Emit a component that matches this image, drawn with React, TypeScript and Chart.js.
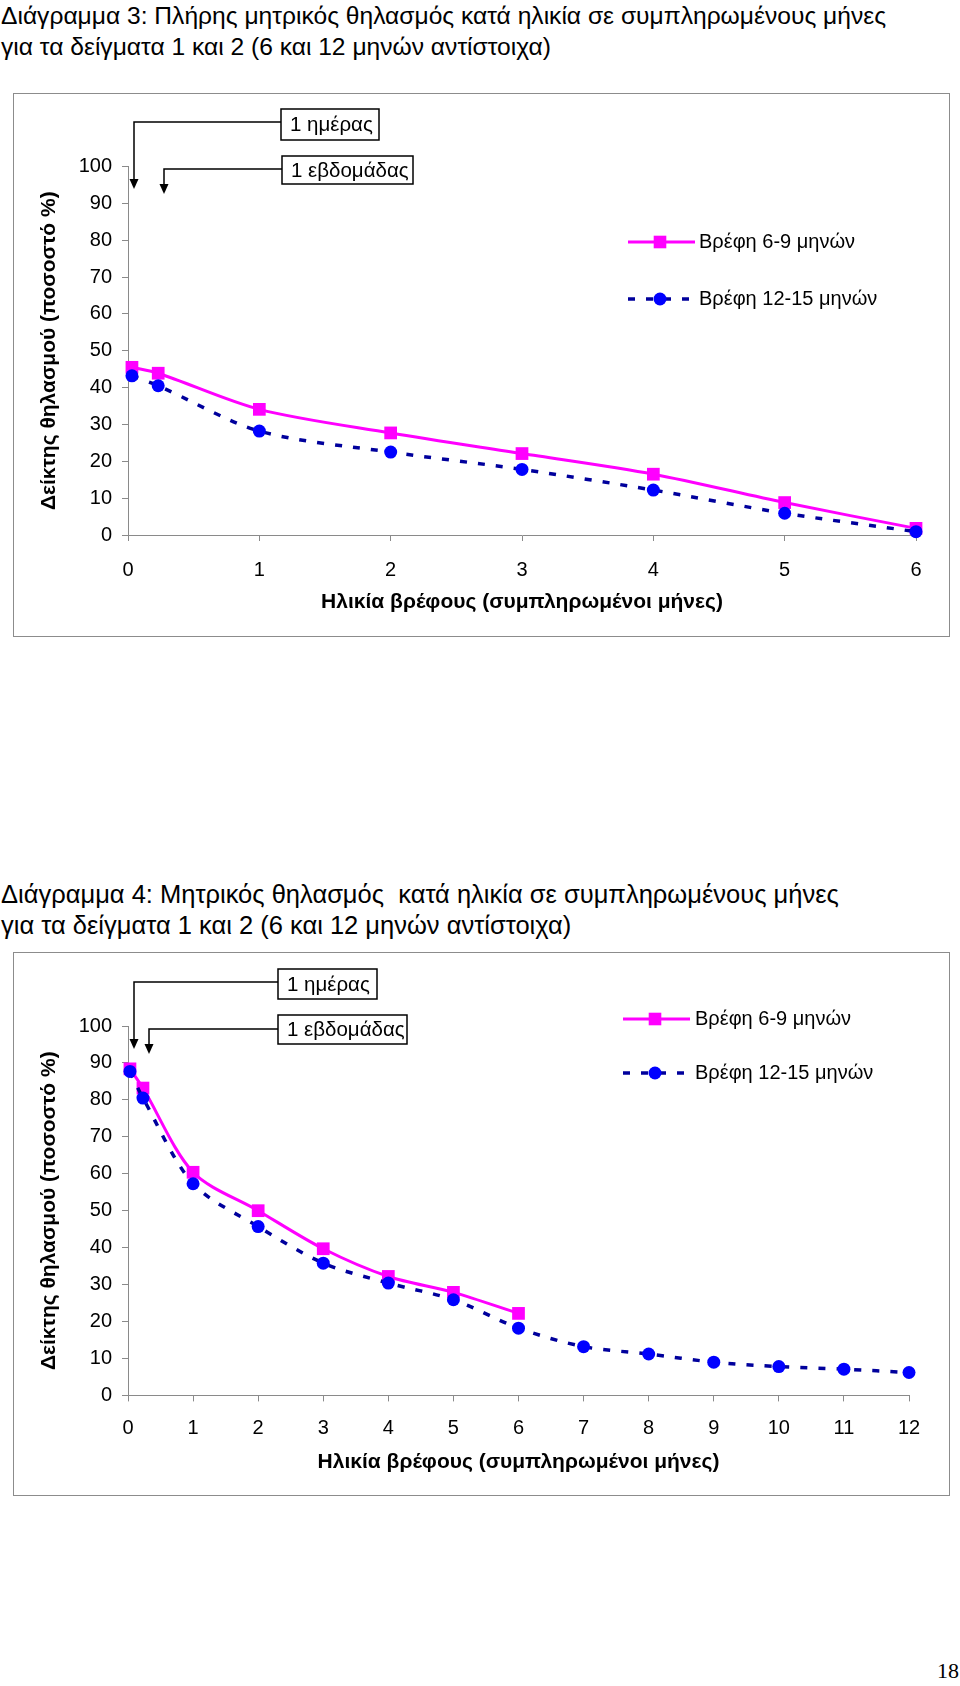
import React, { useEffect, useRef } from "react";
import { Chart, registerables } from "chart.js";

Chart.register(...registerables);

// ---------- data ----------
const chart1Months = [0.03, 0.23, 1, 2, 3, 4, 5, 6];
const chart1Infants6to9 = [45.5, 43.9, 34.1, 27.7, 22.1, 16.5, 8.8, 1.8];
const chart1Infants12to15 = [43.2, 40.5, 28.2, 22.5, 17.8, 12.2, 5.9, 0.9];

const chart2MonthsShort = [0.03, 0.23, 1, 2, 3, 4, 5, 6];
const chart2Infants6to9 = [88.4, 83.2, 60.4, 50.0, 39.7, 32.2, 27.9, 22.2];
const chart2MonthsLong = [0.03, 0.23, 1, 2, 3, 4, 5, 6, 7, 8, 9, 10, 11, 12];
const chart2Infants12to15 = [87.7, 80.5, 57.3, 45.7, 35.8, 30.4, 25.9, 18.2, 13.2, 11.2, 9.0, 7.8, 7.1, 6.2];

const seriesLabels = ["Βρέφη 6-9 μηνών", "Βρέφη 12-15 μηνών"];
const annotationLabels = ["1 ημέρας", "1 εβδομάδας"];
const xAxisTitle = "Ηλικία βρέφους (συμπληρωμένοι μήνες)";
const yAxisTitle = "Δείκτης θηλασμού (ποσοστό %)";
const yMin = 0;
const yMax = 100;
const yStep = 10;
const chart1XMax = 6;
const chart2XMax = 12;

const title1 = [
  "Διάγραμμα 3: Πλήρης μητρικός θηλασμός κατά ηλικία σε συμπληρωμένους μήνες",
  "για τα δείγματα 1 και 2 (6 και 12 μηνών αντίστοιχα)",
];
const title2 = [
  "Διάγραμμα 4: Μητρικός θηλασμός  κατά ηλικία σε συμπληρωμένους μήνες",
  "για τα δείγματα 1 και 2 (6 και 12 μηνών αντίστοιχα)",
];
const pageNumber = "18";

// ---------- styles ----------
const FONT = "'Liberation Sans', Arial, sans-serif";
const PINK = "#FF00FF";
const BLUE_LINE = "#00009c";
const BLUE_MARK = "#0000FF";
const AXIS_GRAY = "#8a8a8a";
const BLUE_DASH = [7, 11];
const TICK_SIZE = 20;
const AXIS_TITLE_SIZE = 21;
const LEGEND_SIZE = 20;
const BOX_SIZE = 20.5;

type Layout = {
  padTop: number;
  padRight: number;
  yWidth: number;
  xHeight: number;
  xTickPad: number;
  xTitleY: number;
  yTitleX: number;
  boxes: { x: number; y: number; w: number; h: number; text: string }[];
  arrows: { fromX: number; y: number; x: number; tipY: number }[];
  legend: { x0: number; x1: number; mx: number; tx: number; y: number[] };
};

function makePlugin(layout: Layout) {
  return {
    id: "decorations",
    afterDraw(chart: any) {
      const ctx: CanvasRenderingContext2D = chart.ctx;
      const ca = chart.chartArea;
      ctx.save();
      // axis titles
      ctx.fillStyle = "#000";
      ctx.font = `bold ${AXIS_TITLE_SIZE}px ${FONT}`;
      ctx.textAlign = "center";
      ctx.textBaseline = "middle";
      ctx.fillText(xAxisTitle, (ca.left + ca.right) / 2, layout.xTitleY);
      ctx.save();
      ctx.translate(layout.yTitleX, (ca.top + ca.bottom) / 2);
      ctx.rotate(-Math.PI / 2);
      ctx.fillText(yAxisTitle, 0, 0);
      ctx.restore();

      // annotation arrows
      ctx.strokeStyle = "#000";
      ctx.fillStyle = "#000";
      ctx.lineWidth = 1.5;
      layout.arrows.forEach((a) => {
        ctx.beginPath();
        ctx.moveTo(a.fromX, a.y);
        ctx.lineTo(a.x, a.y);
        ctx.lineTo(a.x, a.tipY - 8);
        ctx.stroke();
        ctx.beginPath();
        ctx.moveTo(a.x - 4.5, a.tipY - 10);
        ctx.lineTo(a.x + 4.5, a.tipY - 10);
        ctx.lineTo(a.x, a.tipY);
        ctx.closePath();
        ctx.fill();
      });
      // annotation boxes
      layout.boxes.forEach((b) => {
        ctx.fillStyle = "#fff";
        ctx.fillRect(b.x, b.y, b.w, b.h);
        ctx.strokeStyle = "#000";
        ctx.lineWidth = 1.5;
        ctx.strokeRect(b.x, b.y, b.w, b.h);
        ctx.fillStyle = "#000";
        ctx.font = `${BOX_SIZE}px ${FONT}`;
        ctx.textAlign = "left";
        ctx.textBaseline = "middle";
        ctx.fillText(b.text, b.x + 9, b.y + b.h / 2 + 1);
      });

      // legend
      const lg = layout.legend;
      ctx.setLineDash([]);
      ctx.strokeStyle = PINK;
      ctx.lineWidth = 3;
      ctx.beginPath();
      ctx.moveTo(lg.x0, lg.y[0]);
      ctx.lineTo(lg.x1, lg.y[0]);
      ctx.stroke();
      ctx.fillStyle = PINK;
      ctx.fillRect(lg.mx - 6.3, lg.y[0] - 6.3, 12.6, 12.6);
      ctx.setLineDash(BLUE_DASH);
      ctx.strokeStyle = BLUE_LINE;
      ctx.lineWidth = 3.5;
      ctx.beginPath();
      ctx.moveTo(lg.x0, lg.y[1]);
      ctx.lineTo(lg.x1, lg.y[1]);
      ctx.stroke();
      ctx.setLineDash([]);
      ctx.fillStyle = BLUE_MARK;
      ctx.beginPath();
      ctx.arc(lg.mx, lg.y[1], 6.5, 0, Math.PI * 2);
      ctx.fill();
      ctx.fillStyle = "#000";
      ctx.font = `${LEGEND_SIZE}px ${FONT}`;
      ctx.textAlign = "left";
      ctx.textBaseline = "middle";
      ctx.fillText(seriesLabels[0], lg.tx, lg.y[0]);
      ctx.fillText(seriesLabels[1], lg.tx, lg.y[1]);
      ctx.restore();
    },
  };
}

function toPoints(xs: number[], ys: number[]) {
  return ys.map((y, i) => ({ x: xs[i], y }));
}

type PanelProps = {
  xMax: number;
  pinkX: number[];
  pinkY: number[];
  blueX: number[];
  blueY: number[];
  layout: Layout;
  width: number;
  height: number;
};

function ChartPanel(props: PanelProps) {
  const ref = useRef<HTMLCanvasElement | null>(null);
  useEffect(() => {
    const { layout } = props;
    const chart = new Chart(ref.current as HTMLCanvasElement, {
      type: "line",
      data: {
        datasets: [
          {
            label: seriesLabels[0],
            data: toPoints(props.pinkX, props.pinkY),
            borderColor: PINK,
            backgroundColor: PINK,
            borderWidth: 3,
            pointStyle: "rect",
            pointRadius: 9,
            pointBorderWidth: 0,
            pointBackgroundColor: PINK,
            tension: 0.3,
            clip: false,
            order: 1,
          },
          {
            label: seriesLabels[1],
            data: toPoints(props.blueX, props.blueY),
            borderColor: BLUE_LINE,
            backgroundColor: BLUE_MARK,
            borderWidth: 3.5,
            borderDash: BLUE_DASH,
            pointStyle: "circle",
            pointRadius: 6.5,
            pointBorderWidth: 0,
            pointBackgroundColor: BLUE_MARK,
            tension: 0.3,
            clip: false,
            order: 0,
          },
        ],
      },
      options: {
        animation: false,
        responsive: false,
        maintainAspectRatio: false,
        devicePixelRatio: 1,
        layout: {
          padding: { left: 0, top: layout.padTop, right: layout.padRight, bottom: 0 },
        },
        plugins: {
          legend: { display: false },
          tooltip: { enabled: false },
          title: { display: false },
        },
        scales: {
          x: {
            type: "linear",
            min: 0,
            max: props.xMax,
            ticks: {
              stepSize: 1,
              color: "#000",
              font: { family: FONT, size: TICK_SIZE },
              padding: layout.xTickPad,
              maxRotation: 0,
              autoSkip: false,
            },
            grid: {
              drawOnChartArea: false,
              drawTicks: true,
              tickLength: 6,
              color: AXIS_GRAY,
            },
            border: { display: true, color: AXIS_GRAY, width: 1 },
            afterFit: (s: any) => {
              s.height = layout.xHeight;
              s.paddingLeft = 0;
              s.paddingRight = 0;
            },
          },
          y: {
            type: "linear",
            min: yMin,
            max: yMax,
            ticks: {
              stepSize: yStep,
              color: "#000",
              font: { family: FONT, size: TICK_SIZE },
              padding: 10,
            },
            grid: {
              drawOnChartArea: false,
              drawTicks: true,
              tickLength: 6,
              color: AXIS_GRAY,
            },
            border: { display: true, color: AXIS_GRAY, width: 1 },
            afterFit: (s: any) => {
              s.width = layout.yWidth;
              s.paddingTop = 0;
              s.paddingBottom = 0;
            },
          },
        },
      },
      plugins: [makePlugin(layout)],
    } as any);
    return () => chart.destroy();
  }, []);
  return (
    <canvas
      ref={ref}
      width={props.width}
      height={props.height}
      style={{ display: "block", width: props.width, height: props.height }}
    />
  );
}

const layout1: Layout = {
  padTop: 72.5,
  padRight: 33,
  yWidth: 114,
  xHeight: 101,
  xTickPad: 17,
  xTitleY: 508,
  yTitleX: 35,
  boxes: [
    { x: 267, y: 15, w: 98, h: 31, text: annotationLabels[0] },
    { x: 268, y: 62, w: 131, h: 28, text: annotationLabels[1] },
  ],
  arrows: [
    { fromX: 267, y: 28, x: 120, tipY: 95 },
    { fromX: 268, y: 75, x: 150, tipY: 100 },
  ],
  legend: { x0: 614, x1: 681, mx: 646, tx: 685, y: [148, 205] },
};

const layout2: Layout = {
  padTop: 73,
  padRight: 40,
  yWidth: 114,
  xHeight: 99.6,
  xTickPad: 15,
  xTitleY: 509,
  yTitleX: 35,
  boxes: [
    { x: 264, y: 16, w: 99, h: 30, text: annotationLabels[0] },
    { x: 264, y: 62, w: 129, h: 29, text: annotationLabels[1] },
  ],
  arrows: [
    { fromX: 264, y: 29, x: 120, tipY: 96 },
    { fromX: 264, y: 76, x: 135, tipY: 101 },
  ],
  legend: { x0: 609, x1: 676, mx: 641, tx: 681, y: [66, 120] },
};

const titleStyle: React.CSSProperties = {
  position: "absolute",
  left: 1,
  fontFamily: FONT,
  lineHeight: "31px",
  color: "#000",
  whiteSpace: "pre",
  margin: 0,
};

const frameStyle = (top: number): React.CSSProperties => ({
  position: "absolute",
  left: 13,
  top,
  width: 937,
  height: 544,
  border: "1px solid #8c8c8c",
  boxSizing: "border-box",
  background: "#fff",
});

export default function App() {
  return (
    <div
      style={{
        position: "absolute",
        left: 0,
        top: 0,
        width: 960,
        height: 1686,
        background: "#fff",
        overflow: "hidden",
      }}
    >
      <div style={{ ...titleStyle, top: 0, fontSize: 24.6 }}>
        {title1[0]}
        <br />
        {title1[1]}
      </div>
      <div style={frameStyle(93)}>
        <ChartPanel
          xMax={chart1XMax}
          pinkX={chart1Months}
          pinkY={chart1Infants6to9}
          blueX={chart1Months}
          blueY={chart1Infants12to15}
          layout={layout1}
          width={935}
          height={542}
        />
      </div>
      <div style={{ ...titleStyle, top: 879, fontSize: 25.5 }}>
        {title2[0]}
        <br />
        {title2[1]}
      </div>
      <div style={frameStyle(952)}>
        <ChartPanel
          xMax={chart2XMax}
          pinkX={chart2MonthsShort}
          pinkY={chart2Infants6to9}
          blueX={chart2MonthsLong}
          blueY={chart2Infants12to15}
          layout={layout2}
          width={935}
          height={542}
        />
      </div>
      <div
        style={{
          position: "absolute",
          left: 937,
          top: 1659,
          fontFamily: "'Liberation Serif', 'Times New Roman', serif",
          fontSize: 22,
          lineHeight: "24px",
          color: "#000",
        }}
      >
        {pageNumber}
      </div>
    </div>
  );
}
